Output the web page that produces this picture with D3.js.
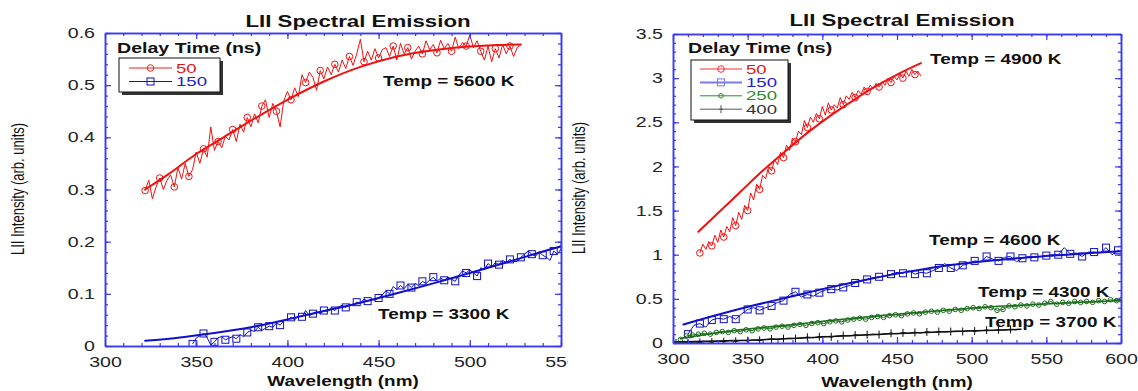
<!DOCTYPE html>
<html>
<head>
<meta charset="utf-8">
<script src="https://cdn.jsdelivr.net/npm/d3@7"></script>
<style>
  body { margin: 0; background: #fff; }
  svg { display: block; background: #fff; }
</style>
</head>
<body>
<svg id="chart" width="1138" height="391"></svg>
<script>
// ---- chart data ----
const chartTitle = "LII Spectral Emission";
const xTitle = "Wavelength (nm)";
const yTitle = "LII Intensity (arb. units)";
const legendTitle = "Delay Time (ns)";

const delayLeft = ["50", "150"];
const delayRight = ["50", "150", "250", "400"];
const tempLeft = ["Temp = 5600 K", "Temp = 3300 K"];
const tempRight = ["Temp = 4900 K", "Temp = 4600 K", "Temp = 4300 K", "Temp = 3700 K"];

const leftXTicks = [300, 350, 400, 450, 500, 550];
const leftYTicks = [0, 0.1, 0.2, 0.3, 0.4, 0.5, 0.6];
const rightXTicks = [300, 350, 400, 450, 500, 550, 600];
const rightYTicks = [0, 0.5, 1, 1.5, 2, 2.5, 3, 3.5];

// left panel, 50 ns measured spectrum and fit
const raw50L = [[322,0.298],[324,0.318],[326,0.282],[328,0.305],[330,0.322],[332,0.300],[334,0.318],[336,0.328],
  [338,0.305],[340,0.342],[342,0.320],[344,0.350],[346,0.325],[348,0.338],[350,0.372],[352,0.350],[354,0.378],
  [356,0.362],[358,0.420],[360,0.375],[362,0.392],[364,0.380],[366,0.402],[368,0.395],[370,0.415],[372,0.392],
  [374,0.425],[376,0.410],[378,0.438],[380,0.420],[382,0.445],[384,0.428],[386,0.460],[388,0.472],[390,0.438],
  [392,0.465],[394,0.450],[396,0.420],[398,0.470],[400,0.488],[402,0.472],[404,0.495],[406,0.478],[408,0.520],
  [410,0.505],[412,0.525],[414,0.515],[416,0.490],[418,0.528],[420,0.512],[422,0.535],[424,0.520],[426,0.540],
  [428,0.525],[430,0.548],[432,0.532],[434,0.555],[436,0.538],[438,0.560],[440,0.588],[442,0.545],[444,0.565],
  [446,0.548],[448,0.570],[450,0.552],[452,0.568],[454,0.572],[456,0.555],[458,0.575],[460,0.548],[462,0.580],
  [464,0.560],[466,0.572],[468,0.550],[470,0.565],[472,0.575],[474,0.560],[476,0.585],[478,0.568],[480,0.578],
  [482,0.562],[484,0.586],[486,0.570],[488,0.580],[490,0.565],[492,0.592],[494,0.570],[496,0.582],[498,0.575],
  [500,0.596],[502,0.572],[504,0.585],[506,0.565],[508,0.548],[510,0.575],[512,0.545],[514,0.570],[516,0.552],
  [518,0.578],[520,0.560],[522,0.575],[524,0.555],[526,0.572],[528,0.578]];
const fit50L = [[322,0.300],[335,0.330],[350,0.368],[365,0.400],[380,0.432],[400,0.472],[420,0.507],[440,0.535],
  [460,0.555],[480,0.567],[500,0.574],[515,0.577],[528,0.578]];

// left panel, 150 ns
const raw150L = [[348,0.004],[350,0.015],[352,0.020],[354,0.024],[356,0.016],[358,0.002],[360,0.008],[362,0.016],
  [364,0.018],[366,0.012],[368,0.015],[370,0.018],[372,0.014],[374,0.022],[376,0.018],[378,0.026],[380,0.030],
  [382,0.028],[384,0.036],[386,0.030],[388,0.034],[390,0.038],[392,0.036],[394,0.044],[396,0.040],[398,0.048],
  [400,0.050],[402,0.055],[404,0.050],[406,0.058],[408,0.056],[410,0.068],[412,0.058],[414,0.062],[416,0.066],
  [418,0.062],[420,0.068],[422,0.066],[424,0.072],[426,0.068],[428,0.075],[430,0.078],[432,0.074],[434,0.080],
  [436,0.078],[438,0.084],[440,0.082],[442,0.090],[444,0.086],[446,0.090],[448,0.088],[450,0.092],[452,0.098],
  [454,0.106],[456,0.100],[458,0.114],[460,0.108],[462,0.116],[464,0.110],[466,0.118],[468,0.112],[470,0.120],
  [472,0.116],[474,0.124],[476,0.120],[478,0.126],[480,0.132],[482,0.124],[484,0.130],[486,0.126],[488,0.132],
  [490,0.128],[492,0.124],[494,0.136],[496,0.144],[498,0.140],[500,0.146],[502,0.140],[504,0.134],[506,0.150],
  [508,0.146],[510,0.158],[512,0.152],[514,0.160],[516,0.156],[518,0.164],[520,0.160],[522,0.166],[524,0.162],
  [526,0.162],[528,0.170],[530,0.176],[532,0.182],[534,0.176],[536,0.172],[538,0.180],[540,0.174],[542,0.170],
  [544,0.164],[546,0.182],[548,0.176],[550,0.186],[552,0.190]];
const fit150L = [[322,0.010],[340,0.016],[360,0.025],[380,0.036],[400,0.051],[420,0.067],[440,0.083],[460,0.101],
  [480,0.120],[500,0.140],[520,0.160],[540,0.181],[555,0.196]];

// right panel, 50 ns
const raw50R = [[318,1.02],[320,1.12],[322,1.06],[324,1.15],[326,1.10],[328,1.22],[330,1.14],[332,1.28],[334,1.20],
  [336,1.32],[338,1.26],[340,1.42],[342,1.33],[344,1.48],[346,1.40],[348,1.56],[350,1.50],[352,1.70],[354,1.62],
  [356,1.80],[358,1.74],[360,1.90],[362,1.86],[364,2.00],[366,1.95],[368,2.08],[370,2.02],[372,2.16],[374,2.10],
  [376,2.24],[378,2.18],[380,2.32],[382,2.28],[384,2.40],[386,2.36],[388,2.52],[390,2.44],[392,2.56],[394,2.50],
  [396,2.60],[398,2.54],[400,2.68],[402,2.58],[404,2.72],[406,2.64],[408,2.70],[410,2.66],[412,2.78],[414,2.70],
  [416,2.80],[418,2.76],[420,2.84],[422,2.78],[424,2.86],[426,2.82],[428,2.90],[430,2.85],[432,2.92],[434,2.88],
  [436,2.94],[438,2.90],[440,2.96],[442,2.92],[444,3.00],[446,2.95],[448,3.02],[450,2.98],[452,3.05],[454,3.00],
  [456,3.08],[458,3.02],[460,3.10],[462,3.04],[464,3.08],[466,3.02]];
const fit50R = [[317,1.26],[330,1.47],[345,1.71],[360,1.95],[375,2.17],[390,2.38],[405,2.57],[420,2.74],[435,2.90],
  [450,3.04],[466,3.17]];

// right panel, 150 ns
const raw150R = [[310,0.10],[314,0.20],[318,0.22],[322,0.18],[326,0.26],[330,0.28],[334,0.27],[338,0.30],[342,0.27],
  [346,0.33],[350,0.38],[354,0.40],[358,0.37],[362,0.40],[366,0.42],[370,0.46],[374,0.48],[378,0.55],[382,0.58],
  [386,0.52],[390,0.55],[394,0.53],[398,0.57],[402,0.60],[406,0.61],[410,0.60],[414,0.63],[418,0.65],[422,0.68],
  [426,0.70],[430,0.72],[434,0.74],[438,0.75],[442,0.76],[446,0.78],[450,0.80],[454,0.79],[458,0.82],[462,0.78],
  [466,0.80],[470,0.79],[474,0.82],[478,0.85],[482,0.90],[486,0.85],[490,0.82],[494,0.88],[498,0.90],[502,0.93],
  [506,0.92],[510,0.98],[514,0.95],[518,0.93],[522,0.97],[526,0.98],[530,0.92],[534,0.96],[538,0.98],[542,0.97],
  [546,0.98],[550,0.99],[554,1.00],[558,1.00],[562,1.08],[566,1.01],[570,1.02],[574,0.98],[578,1.03],[582,1.03],
  [586,1.02],[590,1.08],[594,1.00],[598,1.05],[600,1.03]];
const fit150R = [[307,0.21],[330,0.32],[355,0.43],[380,0.53],[405,0.63],[430,0.72],[455,0.80],[480,0.87],[505,0.92],
  [530,0.96],[555,0.99],[580,1.02],[600,1.04]];

// right panel, 250 ns
const raw250R = [[305,0.04],[309,0.08],[313,0.09],[317,0.10],[321,0.11],[325,0.10],[329,0.12],[333,0.13],[337,0.12],
  [341,0.14],[345,0.13],[349,0.15],[353,0.14],[357,0.16],[361,0.17],[365,0.16],[369,0.18],[373,0.19],[377,0.18],
  [381,0.20],[385,0.21],[389,0.20],[393,0.22],[397,0.23],[401,0.22],[405,0.24],[409,0.25],[413,0.24],[417,0.26],
  [421,0.27],[425,0.28],[429,0.27],[433,0.29],[437,0.30],[441,0.29],[445,0.31],[449,0.32],[453,0.31],[457,0.33],
  [461,0.34],[465,0.33],[469,0.35],[473,0.36],[477,0.35],[481,0.37],[485,0.36],[489,0.38],[493,0.37],[497,0.39],
  [501,0.40],[505,0.39],[509,0.41],[513,0.40],[517,0.37],[521,0.38],[525,0.42],[529,0.41],[533,0.43],[537,0.42],
  [541,0.44],[545,0.43],[549,0.45],[553,0.47],[557,0.44],[561,0.46],[565,0.45],[569,0.47],[573,0.46],[577,0.47],
  [581,0.46],[585,0.48],[589,0.47],[593,0.49],[597,0.48],[600,0.49]];
const fit250R = [[305,0.05],[336,0.13],[380,0.21],[425,0.29],[470,0.355],[514,0.41],[559,0.45],[600,0.48]];

// right panel, 400 ns
const raw400R = [[302,0.000],[306,0.010],[310,0.000],[314,0.010],[318,0.005],[322,0.015],[326,0.010],[330,0.020],
  [334,0.015],[338,0.025],[342,0.020],[346,0.030],[350,0.025],[354,0.035],[358,0.030],[362,0.040],[366,0.045],
  [370,0.040],[374,0.050],[378,0.055],[382,0.050],[386,0.060],[390,0.065],[394,0.060],[398,0.070],[402,0.075],
  [406,0.070],[410,0.080],[414,0.085],[418,0.080],[422,0.090],[426,0.090],[430,0.095],[434,0.100],[438,0.095],
  [442,0.105],[446,0.110],[450,0.105],[454,0.115],[458,0.110],[462,0.120],[466,0.115],[470,0.125],[474,0.120],
  [478,0.130],[482,0.125],[486,0.130],[490,0.135],[494,0.130],[498,0.140],[502,0.135],[506,0.140],[510,0.145],
  [514,0.140],[518,0.150],[522,0.145],[526,0.155],[530,0.150]];
const fit400R = [[300,0.010],[336,0.025],[380,0.050],[403,0.070],[447,0.105],[492,0.133],[533,0.155]];

// ---- drawing ----
const FONT = "'Liberation Sans', Arial, Helvetica, sans-serif";
const STRETCH = 1.35;          // reference text is widened horizontally
const TICK_FONT = 14.5;
const frameColor = "#3a3af0";
const svg = d3.select("#chart");
const defs = svg.append("defs");

function addText(parent, x, y, str, opts = {}) {
  return parent.append("text")
    .attr("transform", `translate(${x},${y}) scale(${opts.stretch || STRETCH},1)`)
    .attr("text-anchor", opts.anchor || "start")
    .attr("font-family", FONT)
    .attr("font-size", opts.size || 14)
    .attr("font-weight", opts.bold ? "bold" : "normal")
    .attr("fill", opts.fill || "#111")
    .text(str);
}

function addShape(sel, shape, color) {
  if (shape === "circle") {
    sel.append("circle").attr("r", 3.3).attr("fill", "none").attr("stroke", color).attr("stroke-width", 1);
  } else if (shape === "dot") {
    sel.append("circle").attr("r", 2.3).attr("fill", "none").attr("stroke", color).attr("stroke-width", 1);
  } else if (shape === "square") {
    sel.append("rect").attr("x", -3.5).attr("y", -3.5).attr("width", 7).attr("height", 7)
      .attr("fill", "none").attr("stroke", color).attr("stroke-width", 1);
  } else if (shape === "plus") {
    sel.append("path").attr("d", "M0,-4V4M-2,0H2").attr("stroke", color).attr("stroke-width", 1);
  }
}

function drawPanel(p) {
  const root = svg.append("g");
  if (p.clipWidth) {
    defs.append("clipPath").attr("id", p.id + "-outer")
      .append("rect").attr("x", 0).attr("y", 0).attr("width", p.clipWidth).attr("height", 391);
    root.attr("clip-path", `url(#${p.id}-outer)`);
  }

  const x = d3.scaleLinear().domain(p.xDomain).range([p.left, p.right]);
  const y = d3.scaleLinear().domain(p.yDomain).range([p.bottom, p.top]);

  defs.append("clipPath").attr("id", p.id + "-plot")
    .append("rect").attr("x", p.left).attr("y", p.top)
    .attr("width", p.right - p.left).attr("height", p.bottom - p.top);

  // series
  const plot = root.append("g").attr("clip-path", `url(#${p.id}-plot)`);
  const rawLine = d3.line().x(d => x(d[0])).y(d => y(d[1]));
  const fitLine = d3.line().x(d => x(d[0])).y(d => y(d[1])).curve(d3.curveMonotoneX);

  p.series.forEach(s => {
    plot.append("path").datum(s.raw)
      .attr("fill", "none").attr("stroke", s.color).attr("stroke-width", 1)
      .attr("stroke-linejoin", "round").attr("d", rawLine);
    plot.append("g").selectAll("g")
      .data(s.raw.filter((d, i) => i % s.every === 0))
      .join("g")
      .attr("transform", d => `translate(${x(d[0])},${y(d[1])})`)
      .each(function () { addShape(d3.select(this), s.shape, s.color); });
    plot.append("path").datum(s.fit)
      .attr("fill", "none").attr("stroke", s.color).attr("stroke-width", s.fitWidth)
      .attr("stroke-linecap", "round").attr("d", fitLine);
  });

  // frame with inward ticks on all four sides
  const minorX = d3.range(p.xDomain[0], p.xDomain[1] + 0.001, p.xMinor);
  const minorY = d3.range(0, p.yDomain[1] + 1e-9, p.yMinor);
  const fmtY = d => String(+d.toFixed(2));

  const axes = [
    [d3.axisBottom(x).tickValues(minorX).tickSizeInner(-3).tickSizeOuter(0).tickFormat(""), `translate(0,${p.bottom})`],
    [d3.axisTop(x).tickValues(minorX).tickSizeInner(-3).tickSizeOuter(0).tickFormat(""), `translate(0,${p.top})`],
    [d3.axisLeft(y).tickValues(minorY).tickSizeInner(-3).tickSizeOuter(0).tickFormat(""), `translate(${p.left},0)`],
    [d3.axisRight(y).tickValues(minorY).tickSizeInner(-3).tickSizeOuter(0).tickFormat(""), `translate(${p.right},0)`],
    [d3.axisTop(x).tickValues(p.xTicks).tickSizeInner(-6).tickSizeOuter(0).tickFormat(""), `translate(0,${p.top})`],
    [d3.axisRight(y).tickValues(p.yTicks).tickSizeInner(-6).tickSizeOuter(0).tickFormat(""), `translate(${p.right},0)`],
    [d3.axisBottom(x).tickValues(p.xTicks).tickSizeInner(-6).tickSizeOuter(0).tickPadding(p.xPad).tickFormat(d3.format("d")), `translate(0,${p.bottom})`],
    [d3.axisLeft(y).tickValues(p.yTicks).tickSizeInner(-6).tickSizeOuter(0).tickPadding(10 / STRETCH).tickFormat(fmtY), `translate(${p.left},0)`]
  ];
  axes.forEach(([axis, tr]) => {
    const g = root.append("g").attr("transform", tr).call(axis)
      .attr("font-size", TICK_FONT).attr("font-family", FONT);
    g.select(".domain").attr("stroke", frameColor).attr("stroke-width", 1.5);
    g.selectAll(".tick line").attr("stroke", frameColor).attr("stroke-width", 1.2);
    g.selectAll(".tick text").attr("fill", "#222").attr("transform", `scale(${STRETCH},1)`);
  });

  // titles
  addText(root, p.titleX, p.titleY, chartTitle, {anchor: "middle", size: 16.5, bold: true});
  addText(root, p.xTitleX, p.xTitleY, xTitle, {anchor: "middle", size: 14, bold: true});
  root.append("text")
    .attr("transform", `translate(${p.yTitleX},${p.yTitleY}) rotate(-90) scale(1,${STRETCH})`)
    .attr("text-anchor", "middle").attr("dy", "0.35em")
    .attr("font-family", FONT).attr("font-size", 13).attr("fill", "#111")
    .text(yTitle);

  // temperature annotations
  p.temps.forEach((t, i) => addText(root, p.tempPos[i][0], p.tempPos[i][1], t, {size: 14, bold: true}));

  // legend
  const L = p.legend;
  addText(root, L.titleX, L.titleY, legendTitle, {size: 14.5, bold: true});
  root.append("rect").attr("x", L.x + 3).attr("y", L.y + 3).attr("width", L.w).attr("height", L.h).attr("fill", "#333");
  root.append("rect").attr("x", L.x).attr("y", L.y).attr("width", L.w).attr("height", L.h)
    .attr("fill", "#fff").attr("stroke", "#111").attr("stroke-width", 1);
  p.series.forEach((s, i) => {
    const ey = L.y + L.first + i * L.step;
    root.append("line").attr("x1", L.lineX0).attr("x2", L.lineX1).attr("y1", ey).attr("y2", ey)
      .attr("stroke", s.legendColor).attr("stroke-width", s.legendWidth);
    addShape(root.append("g").attr("transform", `translate(${(L.lineX0 + L.lineX1) / 2},${ey})`), s.shape, s.legendColor);
    addText(root, L.lineX1 + 4, ey + 4.5, p.labels[i], {size: 12, stretch: 1.55, fill: s.textColor});
  });
}

drawPanel({
  id: "left", clipWidth: 568,
  xDomain: [300, 550], yDomain: [0, 0.6],
  left: 105, right: 561, top: 33, bottom: 346,
  xTicks: leftXTicks, yTicks: leftYTicks, xMinor: 10, yMinor: 0.02, xPad: 10.5,
  titleX: 358, titleY: 27, xTitleX: 343, xTitleY: 386, yTitleX: 18, yTitleY: 189,
  temps: tempLeft, tempPos: [[383, 86], [378, 319]],
  labels: delayLeft,
  legend: {titleX: 117, titleY: 53, x: 119, y: 58, w: 101, h: 34, first: 10, step: 13.5, lineX0: 129, lineX1: 172},
  series: [
    {raw: raw50L, fit: fit50L, color: "#f01010", shape: "circle", every: 4, fitWidth: 2,
     legendColor: "#f02020", legendWidth: 1, textColor: "#e01818"},
    {raw: raw150L, fit: fit150L, color: "#1010c8", shape: "square", every: 3, fitWidth: 2,
     legendColor: "#1010c8", legendWidth: 1, textColor: "#2020cc"}
  ]
});

drawPanel({
  id: "right",
  xDomain: [300, 600], yDomain: [0, 3.5],
  left: 673, right: 1121, top: 34, bottom: 343,
  xTicks: rightXTicks, yTicks: rightYTicks, xMinor: 10, yMinor: 0.1, xPad: 10.5,
  titleX: 902, titleY: 26, xTitleX: 897, xTitleY: 387, yTitleX: 579, yTitleY: 188,
  temps: tempRight, tempPos: [[930, 64], [929, 245], [978, 297], [985, 327]],
  labels: delayRight,
  legend: {titleX: 688, titleY: 53, x: 691, y: 60, w: 97, h: 60, first: 9, step: 13.4, lineX0: 700, lineX1: 742},
  series: [
    {raw: raw50R, fit: fit50R, color: "#f01010", shape: "circle", every: 4, fitWidth: 2,
     legendColor: "#f03030", legendWidth: 1, textColor: "#e01818"},
    {raw: raw150R, fit: fit150R, color: "#1010c8", shape: "square", every: 2, fitWidth: 2,
     legendColor: "#7a7ae8", legendWidth: 2, textColor: "#2020cc"},
    {raw: raw250R, fit: fit250R, color: "#1b6e1b", shape: "dot", every: 1, fitWidth: 1.5,
     legendColor: "#2a8a2a", legendWidth: 1, textColor: "#2a8a2a"},
    {raw: raw400R, fit: fit400R, color: "#111", shape: "plus", every: 2, fitWidth: 1.5,
     legendColor: "#555", legendWidth: 1, textColor: "#333"}
  ]
});
</script>
</body>
</html>
